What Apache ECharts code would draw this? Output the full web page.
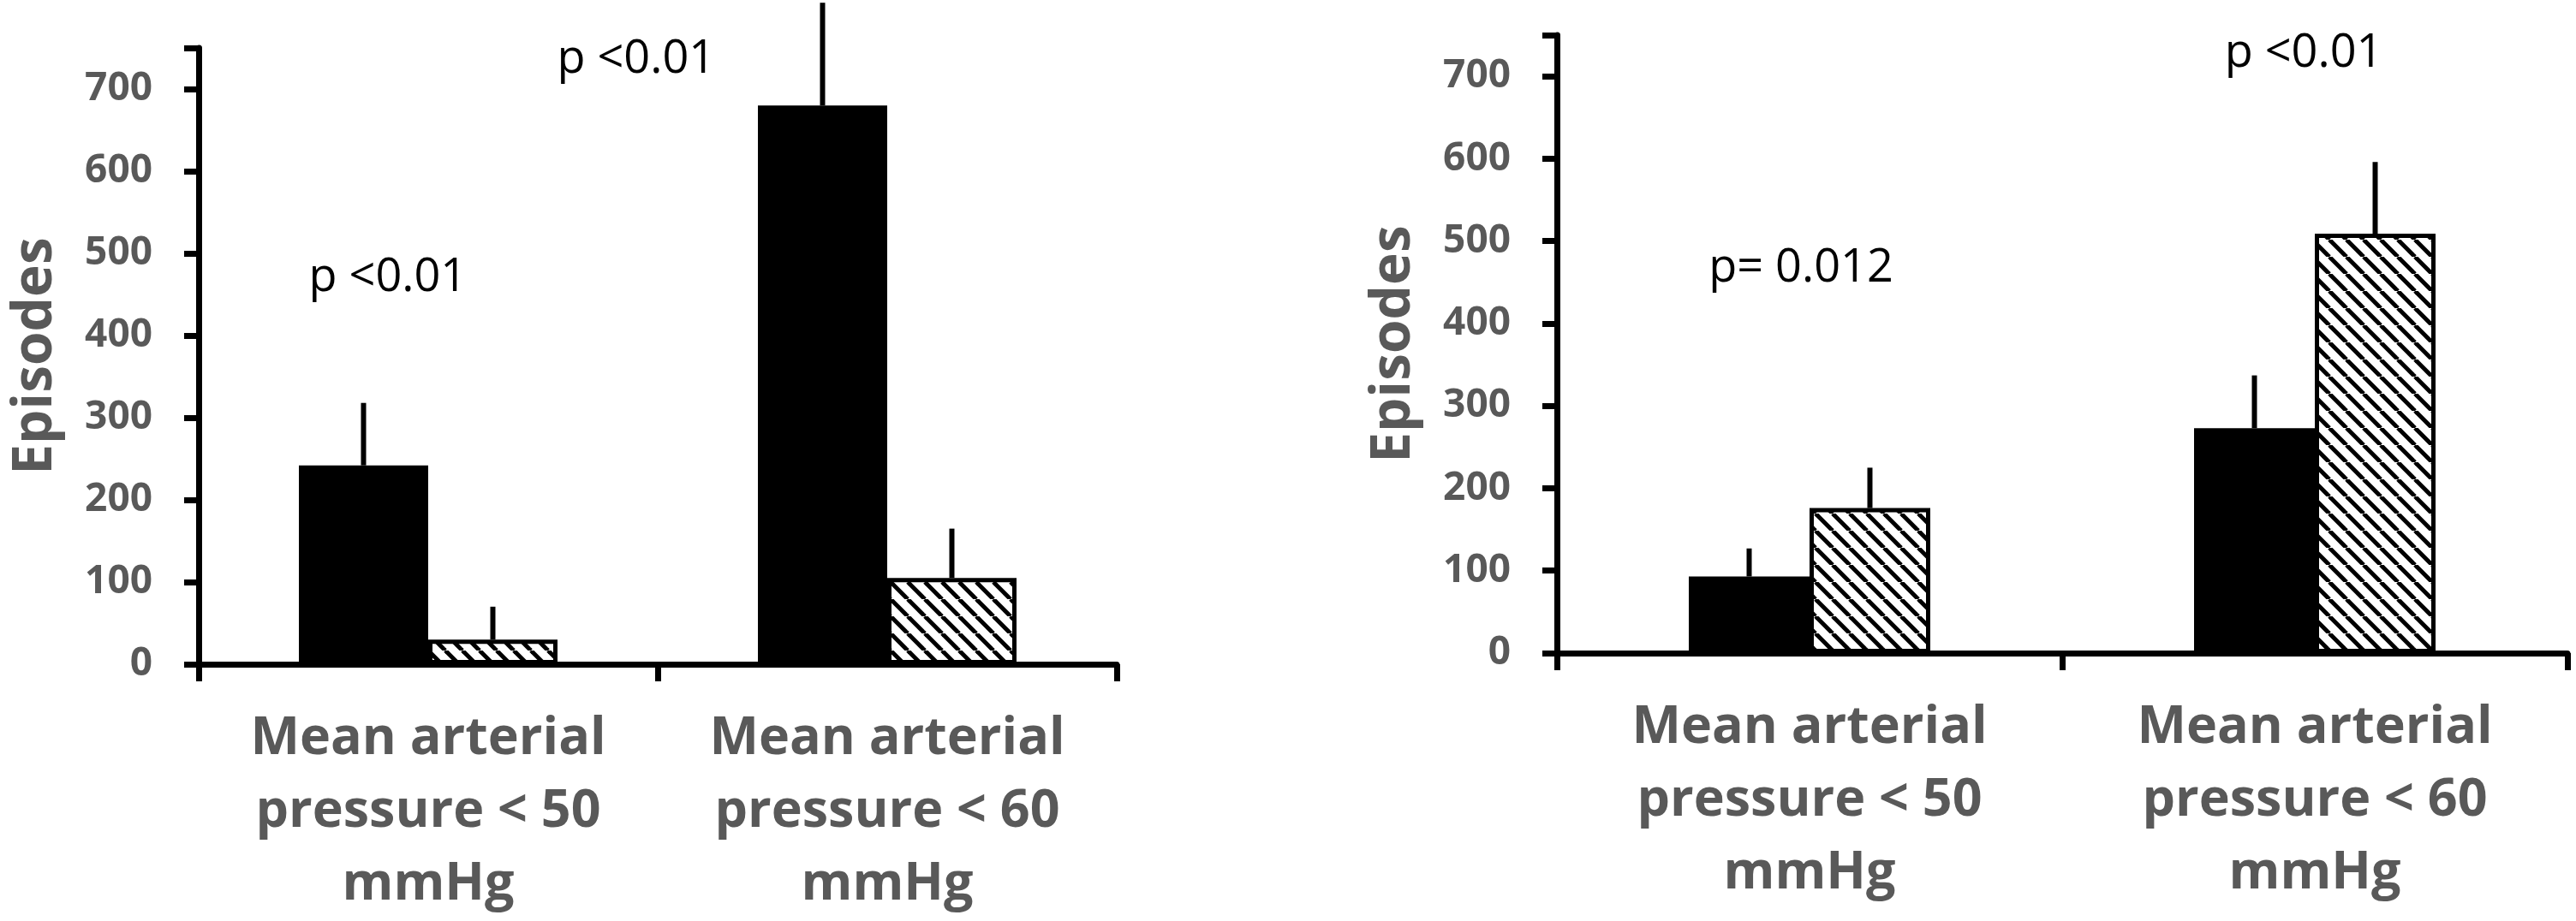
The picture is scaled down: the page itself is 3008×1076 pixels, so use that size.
<!DOCTYPE html>
<html>
<head>
<meta charset="utf-8">
<script src="https://cdn.jsdelivr.net/npm/echarts@6/dist/echarts.min.js"></script>
<style>
  html, body { margin: 0; padding: 0; background: #fff; }
  #main { width: 3008px; height: 1076px; }
</style>
</head>
<body>
<div id="main"></div>
<script>
// categories (same for both panels)
const categories = ['Mean arterial\npressure < 50\nmmHg', 'Mean arterial\npressure < 60\nmmHg'];

// left panel
const leftSolid = [242, 680];
const leftSolidErr = [76, 125];
const leftHatched = [30, 105];
const leftHatchedErr = [40, 60];

// right panel
const rightSolid = [93, 273];
const rightSolidErr = [34, 64];
const rightHatched = [176, 509];
const rightHatchedErr = [49, 87];

// p-value notes: panel, category, offset in category widths, y value
const noteText = ['p <0.01', 'p <0.01', 'p= 0.012', 'p <0.01'];
const notePanel = [0, 0, 1, 1];
const noteCat = [0, 1, 0, 1];
const noteOffset = [-0.088, -0.547, -0.017, -0.022];
const noteValue = [470, 736, 467, 728];

const grey = '#595959';
const font = '"Open Sans", "DejaVu Sans", sans-serif';

function hatchCanvas() {
    let s = 20;
    let c = document.createElement('canvas');
    c.width = s; c.height = s;
    let g = c.getContext('2d');
    g.fillStyle = '#fff';
    g.fillRect(0, 0, s, s);
    g.strokeStyle = '#000';
    g.lineWidth = 5;
    [-s, 0, s].forEach(k => {
        g.beginPath();
        g.moveTo(k, 0);
        g.lineTo(k + s, s);
        g.stroke();
    });
    return c;
}
const hatch = {image: hatchCanvas(), repeat: 'repeat'};

function errData(vals, errs) {
    return vals.map((v, i) => [i, v, errs[i]]);
}

// upper error whisker only, shifted onto its bar
function errRender(barW, side) {
    return function (params, api) {
        let ci = api.value(0), v = api.value(1), e = api.value(2);
        let p0 = api.coord([ci, v]);
        let p1 = api.coord([ci, v + e]);
        let x = p0[0] + side * barW / 2;
        return {
            type: 'line',
            shape: {x1: x, y1: p0[1], x2: x, y2: p1[1]},
            style: {stroke: '#000', lineWidth: 6}
        };
    };
}

function xAxisOpt(idx) {
    return {
        type: 'category', gridIndex: idx, data: categories,
        axisLine: {lineStyle: {color: '#000', width: 7}},
        axisTick: {show: true, length: 20, lineStyle: {color: '#000', width: 7}},
        axisLabel: {
            interval: 0, margin: 45, color: grey, fontFamily: font,
            fontWeight: 'bold', fontSize: 61, lineHeight: 85
        }
    };
}

function yAxisOpt(idx) {
    return {
        type: 'value', gridIndex: idx, min: 0, max: 750, interval: 100,
        name: 'Episodes', nameLocation: 'middle', nameRotate: 90, nameGap: 158,
        nameTextStyle: {color: grey, fontFamily: font, fontWeight: 'bold', fontSize: 64},
        axisLine: {show: true, lineStyle: {color: '#000', width: 7}},
        axisTick: {show: true, length: 17, lineStyle: {color: '#000', width: 7}},
        splitLine: {show: false},
        axisLabel: {
            margin: 54, color: grey, fontFamily: font, fontWeight: 'bold', fontSize: 46,
            formatter: v => (v % 100 === 0 ? String(v) : '')
        }
    };
}

const leftBarW = 151;
const rightBarW = 141;

let myChart = echarts.init(document.getElementById('main'));

myChart.setOption({
    backgroundColor: '#fff',
    animation: false,
    grid: [
        {left: 232, top: 56, width: 1072, height: 723},
        {left: 1818, top: 41, width: 1180, height: 722}
    ],
    xAxis: [xAxisOpt(0), xAxisOpt(1)],
    yAxis: [yAxisOpt(0), yAxisOpt(1)],
    series: [
        {type: 'bar', xAxisIndex: 0, yAxisIndex: 0, data: leftSolid, barWidth: leftBarW, barGap: '0%',
            itemStyle: {color: '#000'}},
        {type: 'bar', xAxisIndex: 0, yAxisIndex: 0, data: leftHatched, barWidth: leftBarW, barGap: '0%',
            itemStyle: {color: hatch, borderColor: '#000', borderWidth: 5}},
        {type: 'custom', xAxisIndex: 0, yAxisIndex: 0, clip: false, z: 5,
            renderItem: errRender(leftBarW, -1), data: errData(leftSolid, leftSolidErr)},
        {type: 'custom', xAxisIndex: 0, yAxisIndex: 0, clip: false, z: 5,
            renderItem: errRender(leftBarW, 1), data: errData(leftHatched, leftHatchedErr)},

        {type: 'bar', xAxisIndex: 1, yAxisIndex: 1, data: rightSolid, barWidth: rightBarW, barGap: '0%',
            itemStyle: {color: '#000'}},
        {type: 'bar', xAxisIndex: 1, yAxisIndex: 1, data: rightHatched, barWidth: rightBarW, barGap: '0%',
            itemStyle: {color: hatch, borderColor: '#000', borderWidth: 5}},
        {type: 'custom', xAxisIndex: 1, yAxisIndex: 1, clip: false, z: 5,
            renderItem: errRender(rightBarW, -1), data: errData(rightSolid, rightSolidErr)},
        {type: 'custom', xAxisIndex: 1, yAxisIndex: 1, clip: false, z: 5,
            renderItem: errRender(rightBarW, 1), data: errData(rightHatched, rightHatchedErr)}
    ]
});

// place the p-value notes through the axes
let notes = noteText.map((t, i) => {
    let finder = {xAxisIndex: notePanel[i], yAxisIndex: notePanel[i]};
    let c0 = myChart.convertToPixel(finder, [0, 0]);
    let c1 = myChart.convertToPixel(finder, [1, 0]);
    let cw = c1[0] - c0[0];
    let p = myChart.convertToPixel(finder, [noteCat[i], noteValue[i]]);
    return {
        type: 'text',
        x: p[0] + noteOffset[i] * cw,
        y: p[1],
        style: {
            text: t, fill: '#000', fontFamily: font, fontSize: 54,
            align: 'center', verticalAlign: 'middle'
        }
    };
});
myChart.setOption({graphic: notes});
</script>
</body>
</html>
